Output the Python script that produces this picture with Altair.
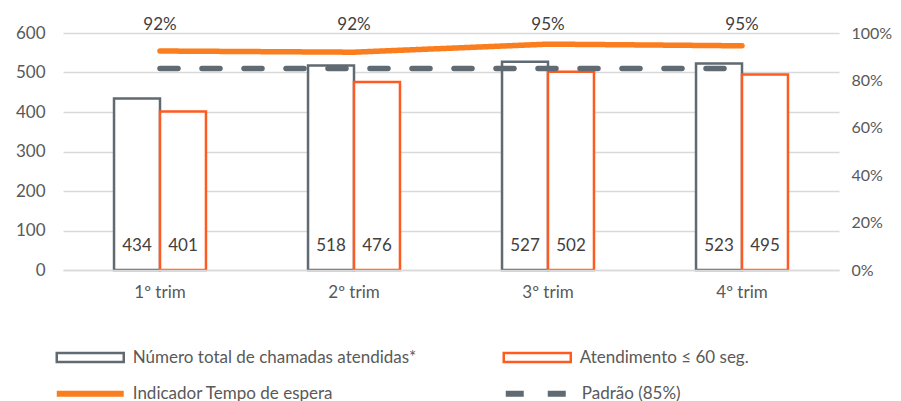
import altair as alt
import pandas as pd

# ---- data -------------------------------------------------------------
trims = ["1º trim", "2º trim", "3º trim", "4º trim"]
total_chamadas = [434, 518, 527, 523]
atend_60 = [401, 476, 502, 495]
indicador = [0.924, 0.919, 0.953, 0.946]
padrao = [0.85, 0.85, 0.85, 0.85]

S_TOTAL = "Número total de chamadas atendidas*"
S_60 = "Atendimento ≤ 60 seg."
S_IND = "Indicador Tempo de espera"
S_PAD = "Padrão (85%)"
bar_series = [S_TOTAL, S_60]
bar_colors = ["#5F6A72", "#FF5A1F"]
line_series = [S_IND, S_PAD]
line_colors = ["#FA7D1E", "#5F6A72"]
line_dashes = [[1, 0], [18, 24]]

bars_df = pd.DataFrame({
    "trim": trims * 2,
    "serie": [S_TOTAL] * 4 + [S_60] * 4,
    "valor": total_chamadas + atend_60,
})
ind_df = pd.DataFrame({"trim": trims, "serie": [S_IND] * 4, "pct": indicador})
pad_df = pd.DataFrame({"trim": trims, "serie": [S_PAD] * 4, "pct": padrao})

FONT = "Lato"
FS = 17
TXT = "#404040"
LBL = "#595959"

common_legend = dict(
    title=None,
    orient="none",
    columns=2,
    gridAlign="all",
    symbolSize=100,
    labelOffset=34,
    labelLimit=500,
    labelFont=FONT,
    labelFontSize=FS,
    labelColor=LBL,
    symbolOpacity=1,
)

bar_legend = alt.Legend(
    legendX=18.75, legendY=316, columnPadding=82,
    symbolType="M-6.7,-0.9H6.7V0.9H-6.7Z", symbolFillColor="#ffffff",
    symbolStrokeWidth=2.5, **common_legend,
)
line_legend = alt.Legend(
    legendX=18.75, legendY=352, columnPadding=160,
    symbolType="M-6.7,0H6.7", symbolStrokeWidth=6, **common_legend,
)

x_enc = alt.X(
    "trim:N",
    sort=trims,
    scale=alt.Scale(paddingInner=0.526, paddingOuter=0.263),
    axis=alt.Axis(
        title=None, labelAngle=0, ticks=False, domain=True, domainColor="#D9D9D9",
        domainWidth=1.5, labelPadding=14, zindex=1,
    ),
)
xoff_enc = alt.XOffset("serie:N", sort=bar_series,
                       scale=alt.Scale(paddingInner=0, paddingOuter=0))

bars = alt.Chart(bars_df).mark_bar(fill="white", strokeWidth=2.5).encode(
    x=x_enc,
    xOffset=xoff_enc,
    y=alt.Y(
        "valor:Q",
        scale=alt.Scale(domain=[0, 600], nice=False),
        axis=alt.Axis(
            title=None, values=[0, 100, 200, 300, 400, 500, 600], grid=True,
            ticks=False, domain=False, labelPadding=18,
        ),
    ),
    stroke=alt.Stroke("serie:N", scale=alt.Scale(domain=bar_series, range=bar_colors),
                      legend=bar_legend),
)

bar_text = alt.Chart(bars_df).mark_text(
    font=FONT, fontSize=FS, color=TXT, baseline="middle"
).encode(
    x=x_enc,
    xOffset=xoff_enc,
    y=alt.value(213),
    text=alt.Text("valor:Q"),
)

y_right = alt.Y(
    "pct:Q",
    scale=alt.Scale(domain=[0, 1], nice=False),
    axis=alt.Axis(
        title=None, orient="right", format=".0%", values=[0, 0.2, 0.4, 0.6, 0.8, 1.0],
        grid=False, ticks=False, domain=False, labelPadding=12, labelFontSize=16,
    ),
)
line_stroke = alt.Stroke("serie:N", scale=alt.Scale(domain=line_series, range=line_colors),
                         legend=line_legend)
line_dash = alt.StrokeDash("serie:N", scale=alt.Scale(domain=line_series, range=line_dashes),
                           legend=line_legend)

line_pad = alt.Chart(pad_df).mark_line(
    strokeWidth=5.5, strokeCap="round"
).encode(x=x_enc, y=y_right, stroke=line_stroke, strokeDash=line_dash)

line_ind = alt.Chart(ind_df).mark_line(
    strokeWidth=5.5, strokeCap="round"
).encode(x=x_enc, y=y_right, stroke=line_stroke, strokeDash=line_dash)

pct_text = alt.Chart(ind_df).mark_text(
    font=FONT, fontSize=FS, color=TXT, baseline="middle"
).encode(
    x=x_enc,
    y=alt.value(-8),
    text=alt.Text("pct:Q", format=".0%"),
)

chart = alt.layer(
    bars, bar_text, alt.layer(line_pad, line_ind, pct_text)
).resolve_scale(
    y="independent", stroke="independent", strokeDash="independent"
).properties(
    width=776,
    height=237,
    autosize=alt.AutoSizeParams(type="none"),
    padding={"left": 55, "top": 25, "right": 54, "bottom": 150},
).configure_view(stroke=None).configure_axis(
    labelFont=FONT, labelFontSize=FS, labelColor=LBL,
    gridColor="#D9D9D9", gridWidth=1.3,
)

chart.save("out.html", embed_options={"renderer": "svg", "actions": False})
